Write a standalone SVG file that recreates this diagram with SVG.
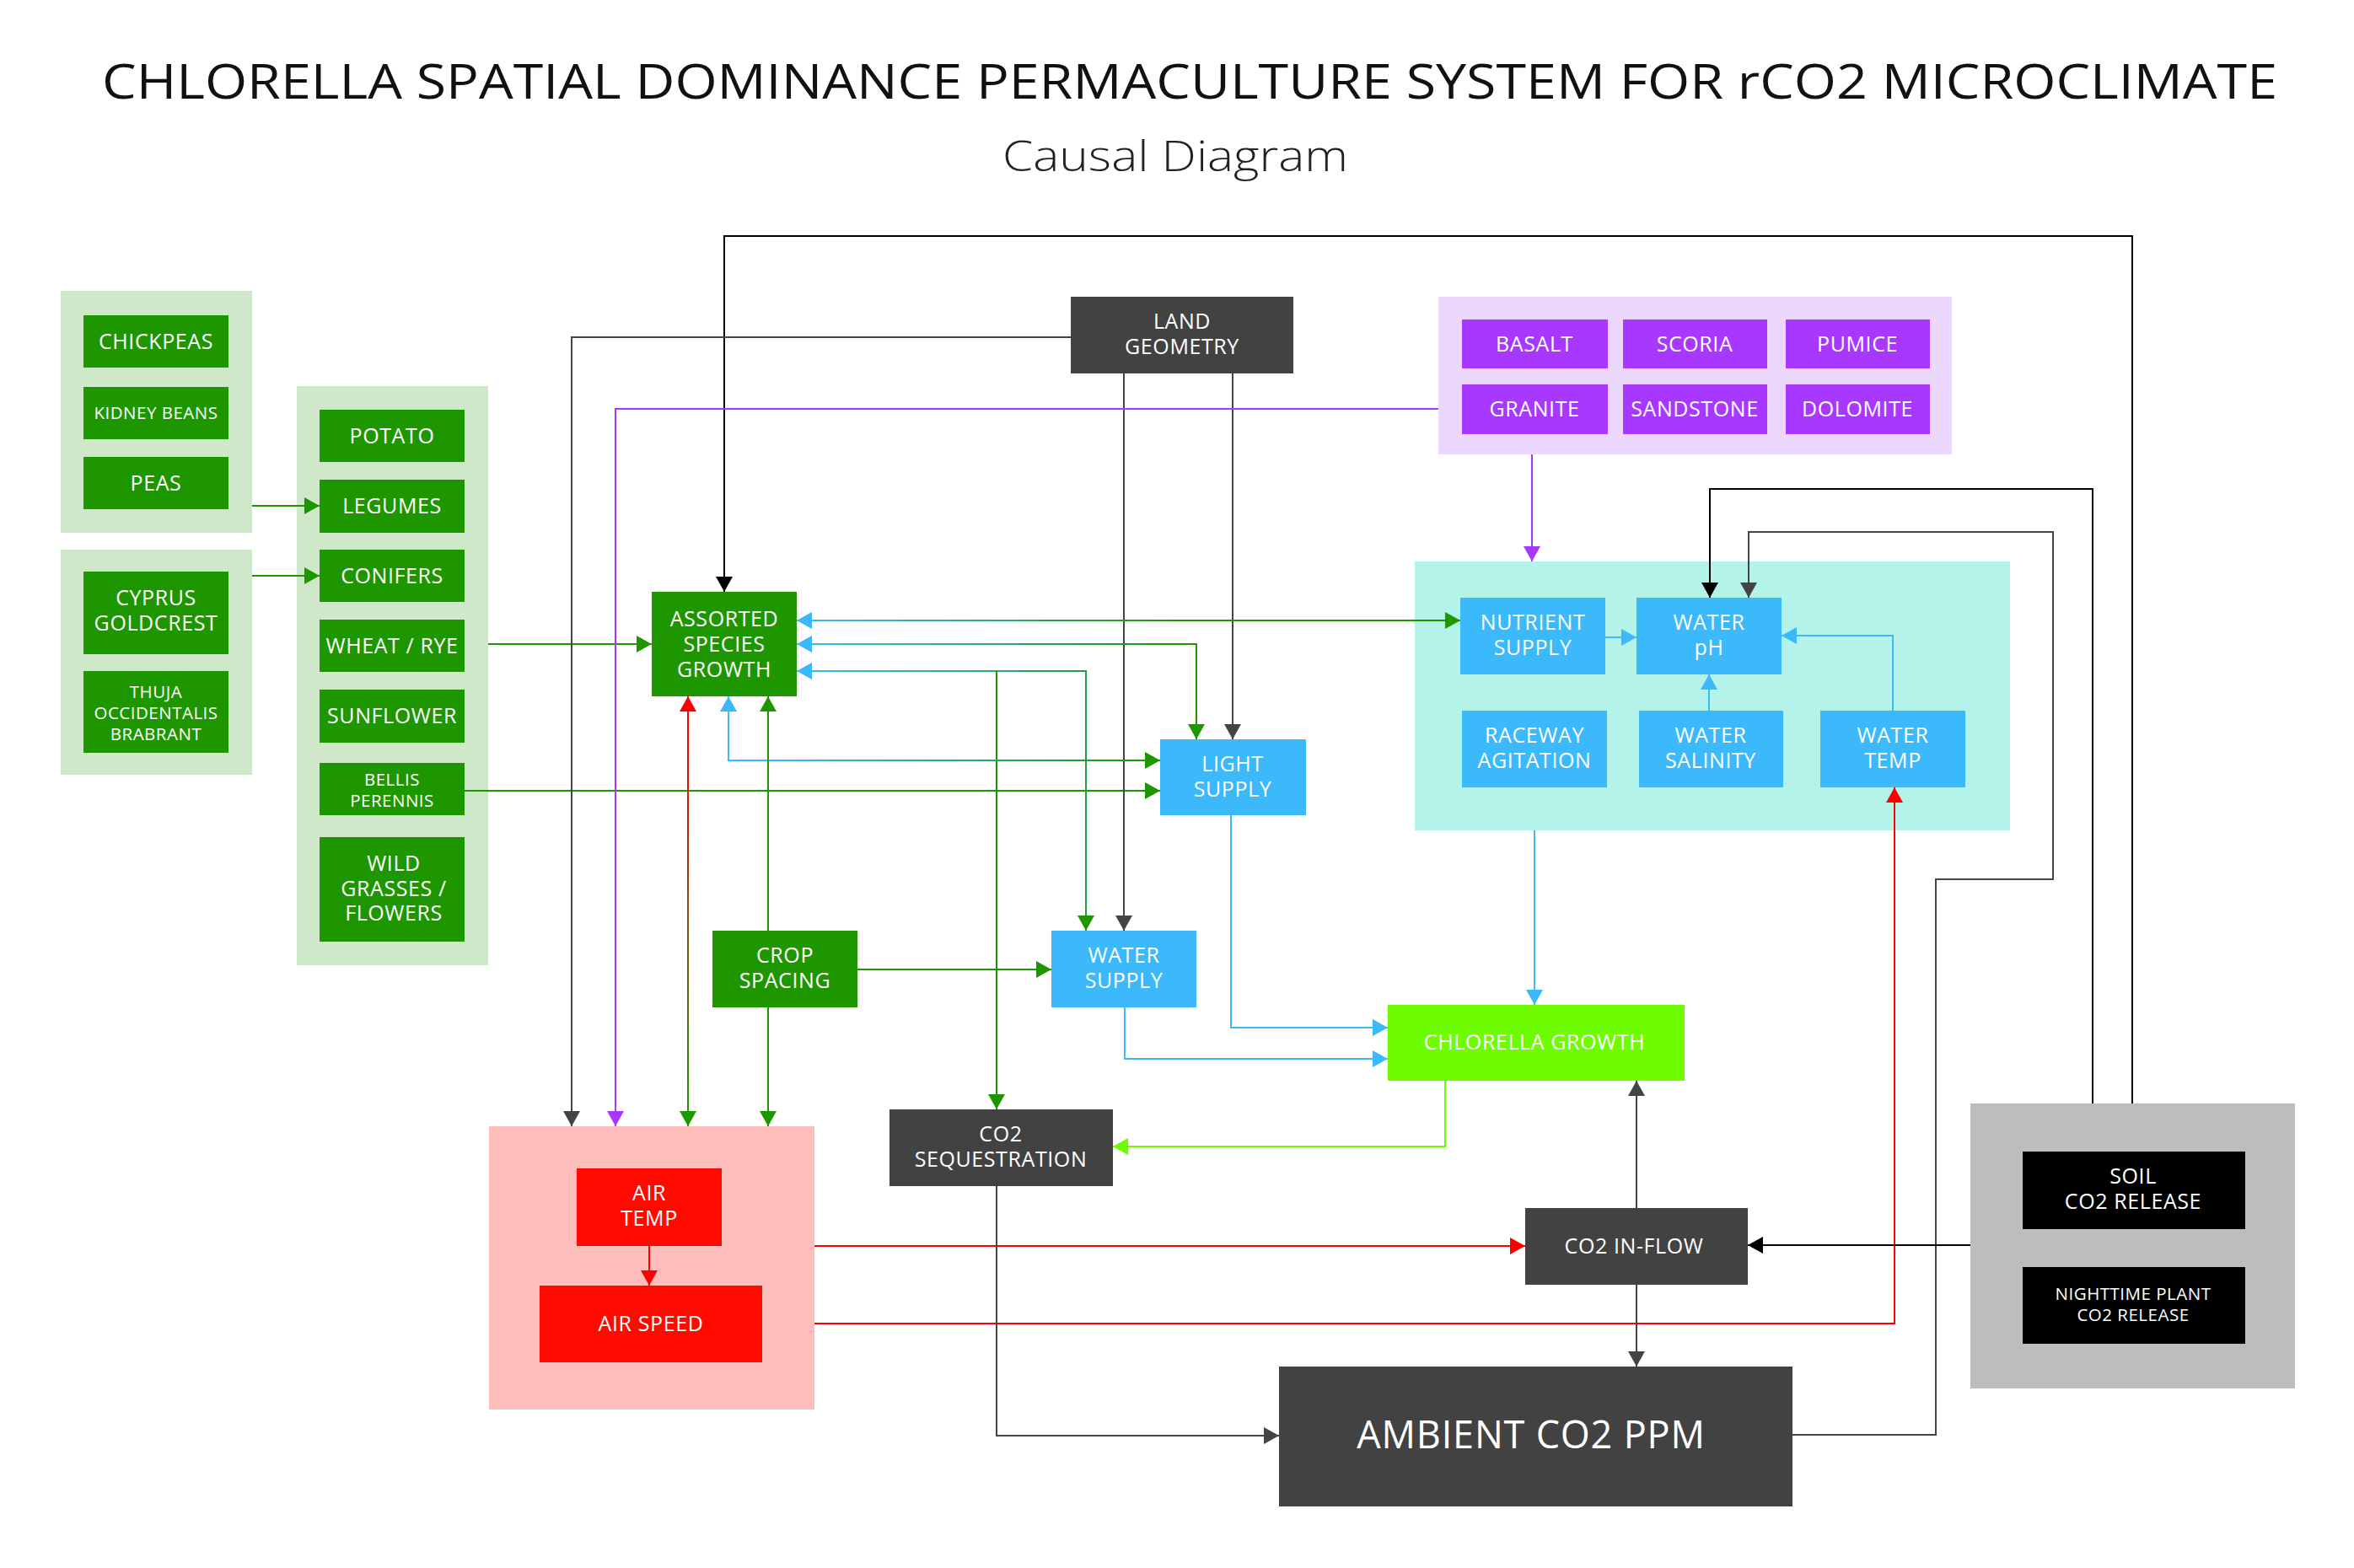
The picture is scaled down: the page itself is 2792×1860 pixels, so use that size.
<svg xmlns="http://www.w3.org/2000/svg" width="2792" height="1860" viewBox="0 0 2792 1860">
<style>
text{font-family:"Open Sans","Liberation Sans",sans-serif;fill:#fff;font-weight:500;text-anchor:middle}
.t{font-size:25px;letter-spacing:0.6px}
.s{font-size:20.5px;letter-spacing:0.5px}
.title{fill:#111;font-size:56px;font-weight:500}
.sub{fill:#222;font-size:50px;font-weight:300}
.grn{fill:#1e9600}.pur{fill:#a838ff}.blu{fill:#3bb9fb}.dk{fill:#424242}.red{fill:#ff0a00}.lime{fill:#6dfd00}.blk{fill:#000}
.ln{fill:none;stroke-width:2}
.lg{stroke:#1e9600}.lb{stroke:#3bb9fb}.lp{stroke:#a838ff}.lr{stroke:#ff0000}.lk{stroke:#000}.ld{stroke:#444}.ll{stroke:#6dfd00}
</style>
<defs>
<marker id="aG" markerUnits="userSpaceOnUse" markerWidth="18" markerHeight="20" refX="18" refY="10" orient="auto-start-reverse"><path d="M0,0L18,10L0,20z" fill="#1e9600"/></marker>
<marker id="aB" markerUnits="userSpaceOnUse" markerWidth="18" markerHeight="20" refX="18" refY="10" orient="auto-start-reverse"><path d="M0,0L18,10L0,20z" fill="#3bb9fb"/></marker>
<marker id="aP" markerUnits="userSpaceOnUse" markerWidth="18" markerHeight="20" refX="18" refY="10" orient="auto-start-reverse"><path d="M0,0L18,10L0,20z" fill="#a838ff"/></marker>
<marker id="aR" markerUnits="userSpaceOnUse" markerWidth="18" markerHeight="20" refX="18" refY="10" orient="auto-start-reverse"><path d="M0,0L18,10L0,20z" fill="#ff0000"/></marker>
<marker id="aK" markerUnits="userSpaceOnUse" markerWidth="18" markerHeight="20" refX="18" refY="10" orient="auto-start-reverse"><path d="M0,0L18,10L0,20z" fill="#000"/></marker>
<marker id="aD" markerUnits="userSpaceOnUse" markerWidth="18" markerHeight="20" refX="18" refY="10" orient="auto-start-reverse"><path d="M0,0L18,10L0,20z" fill="#444"/></marker>
<marker id="aL" markerUnits="userSpaceOnUse" markerWidth="18" markerHeight="20" refX="18" refY="10" orient="auto-start-reverse"><path d="M0,0L18,10L0,20z" fill="#6dfd00"/></marker>
<linearGradient id="gBG1" gradientUnits="userSpaceOnUse" x1="945" y1="0" x2="1400" y2="0"><stop offset="0" stop-color="#3bb9fb"/><stop offset="1" stop-color="#1e9600"/></linearGradient>
<linearGradient id="gBG2" gradientUnits="userSpaceOnUse" x1="900" y1="0" x2="1376" y2="0"><stop offset="0" stop-color="#3bb9fb"/><stop offset="1" stop-color="#1e9600"/></linearGradient>
<linearGradient id="gRG" gradientUnits="userSpaceOnUse" x1="0" y1="840" x2="0" y2="1320"><stop offset="0" stop-color="#ff0000"/><stop offset="1" stop-color="#1e9600"/></linearGradient>
</defs>
<rect width="2792" height="1860" fill="#fff"/>
<text class="title" x="1411" y="117" textLength="2580" lengthAdjust="spacingAndGlyphs">CHLORELLA SPATIAL DOMINANCE PERMACULTURE SYSTEM FOR rCO2 MICROCLIMATE</text>
<text class="sub" x="1394" y="203" textLength="410" lengthAdjust="spacingAndGlyphs">Causal Diagram</text>

<g id="group-legumes"><rect x="72" y="345" width="227" height="287" fill="#cfe8ca"/></g>
<g id="group-conifers"><rect x="72" y="652" width="227" height="267" fill="#cfe8ca"/></g>
<g id="group-plants"><rect x="352" y="458" width="227" height="687" fill="#cfe8ca"/></g>
<g id="group-rocks"><rect x="1706" y="352" width="609" height="187" fill="#ecd8fd"/></g>
<g id="group-water"><rect x="1678" y="666" width="706" height="319" fill="#b3f3ea"/></g>
<g id="group-air"><rect x="580" y="1336" width="386" height="336" fill="#fdbebb"/></g>
<g id="group-release"><rect x="2337" y="1309" width="385" height="338" fill="#bdbdbd"/></g>

<g id="connectors">
<path class="ln lg" d="M299,600H379" marker-end="url(#aG)"/>
<path class="ln lg" d="M299,683H379" marker-end="url(#aG)"/>
<path class="ln lg" d="M579,764H773" marker-end="url(#aG)"/>
<path class="ln lg" d="M551,938H1376" marker-end="url(#aG)"/>
<path class="ln lk" d="M2529,1309V280H859V702" marker-end="url(#aK)"/>
<path class="ln lk" d="M2482,1309V580H2028V709" marker-end="url(#aK)"/>
<path class="ln ld" d="M2126,1702H2296V1043H2435V631H2074V709" marker-end="url(#aD)"/>
<path class="ln ld" d="M1270,400H678V1336" marker-end="url(#aD)"/>
<path class="ln ld" d="M1333,443V1104" marker-end="url(#aD)"/>
<path class="ln ld" d="M1462,443V877" marker-end="url(#aD)"/>
<path class="ln lp" d="M1706,485H730V1336" marker-end="url(#aP)"/>
<path class="ln lp" d="M1817,539V666" marker-end="url(#aP)"/>
<path class="ln" stroke="url(#gBG1)" d="M945,736H1732" marker-start="url(#aB)" marker-end="url(#aG)"/>
<path class="ln" stroke="url(#gBG1)" d="M945,764H1419V877" marker-start="url(#aB)" marker-end="url(#aG)"/>
<path class="ln" stroke="url(#gBG1)" d="M945,796H1288V1104" marker-start="url(#aB)" marker-end="url(#aG)"/>
<path class="ln lg" d="M1182,796V1316" marker-end="url(#aG)"/>
<path class="ln" stroke="url(#gBG2)" d="M864,826V902H1376" marker-start="url(#aB)" marker-end="url(#aG)"/>
<path class="ln lg" d="M911,1104V826" marker-end="url(#aG)"/>
<path class="ln lg" d="M911,1195V1336" marker-end="url(#aG)"/>
<path class="ln lg" d="M1017,1150H1247" marker-end="url(#aG)"/>
<path class="ln" stroke="url(#gRG)" d="M816,826V1336" marker-start="url(#aR)" marker-end="url(#aG)"/>
<path class="ln lr" d="M770,1478V1525" marker-end="url(#aR)"/>
<path class="ln lr" d="M966,1478H1809" marker-end="url(#aR)"/>
<path class="ln lr" d="M966,1570H2247V934" marker-end="url(#aR)"/>
<path class="ln lb" d="M1460,967V1219H1646" marker-end="url(#aB)"/>
<path class="ln lb" d="M1334,1195V1256H1646" marker-end="url(#aB)"/>
<path class="ln lb" d="M1820,985V1192" marker-end="url(#aB)"/>
<path class="ln ll" d="M1714,1282V1360H1320" marker-end="url(#aL)"/>
<path class="ln ld" d="M1941,1433V1282" marker-end="url(#aD)"/>
<path class="ln ld" d="M1941,1524V1621" marker-end="url(#aD)"/>
<path class="ln lk" d="M2337,1477H2073" marker-end="url(#aK)"/>
<path class="ln ld" d="M1182,1407V1703H1517" marker-end="url(#aD)"/>
<path class="ln lb" d="M1904,756H1941" marker-end="url(#aB)"/>
<path class="ln lb" d="M2027,843V800" marker-end="url(#aB)"/>
<path class="ln lb" d="M2245,843V754H2113" marker-end="url(#aB)"/>
</g>

<g id="chickpeas"><rect class="grn" x="99" y="374" width="172" height="62"/><text class="t" x="185" y="414">CHICKPEAS</text></g>
<g id="kidney-beans"><rect class="grn" x="99" y="459" width="172" height="62"/><text class="s" x="185" y="497">KIDNEY BEANS</text></g>
<g id="peas"><rect class="grn" x="99" y="542" width="172" height="62"/><text class="t" x="185" y="582">PEAS</text></g>
<g id="cyprus"><rect class="grn" x="99" y="678" width="172" height="98"/><text class="t" x="185" y="718">CYPRUS</text><text class="t" x="185" y="748">GOLDCREST</text></g>
<g id="thuja"><rect class="grn" x="99" y="796" width="172" height="97"/><text class="s" x="185" y="828">THUJA</text><text class="s" x="185" y="853">OCCIDENTALIS</text><text class="s" x="185" y="878">BRABRANT</text></g>
<g id="potato"><rect class="grn" x="379" y="486" width="172" height="62"/><text class="t" x="465" y="526">POTATO</text></g>
<g id="legumes"><rect class="grn" x="379" y="569" width="172" height="63"/><text class="t" x="465" y="609">LEGUMES</text></g>
<g id="conifers"><rect class="grn" x="379" y="652" width="172" height="62"/><text class="t" x="465" y="692">CONIFERS</text></g>
<g id="wheat-rye"><rect class="grn" x="379" y="735" width="172" height="62"/><text class="t" x="465" y="775">WHEAT / RYE</text></g>
<g id="sunflower"><rect class="grn" x="379" y="818" width="172" height="63"/><text class="t" x="465" y="858">SUNFLOWER</text></g>
<g id="bellis"><rect class="grn" x="379" y="905" width="172" height="62"/><text class="s" x="465" y="932">BELLIS</text><text class="s" x="465" y="957">PERENNIS</text></g>
<g id="wild-grasses"><rect class="grn" x="379" y="993" width="172" height="124"/><text class="t" x="467" y="1033">WILD</text><text class="t" x="467" y="1063">GRASSES /</text><text class="t" x="467" y="1092">FLOWERS</text></g>

<g id="assorted"><rect class="grn" x="773" y="702" width="172" height="124"/><text class="t" x="859" y="743">ASSORTED</text><text class="t" x="859" y="773">SPECIES</text><text class="t" x="859" y="803">GROWTH</text></g>
<g id="land-geometry"><rect class="dk" x="1270" y="352" width="264" height="91"/><text class="t" x="1402" y="390">LAND</text><text class="t" x="1402" y="420">GEOMETRY</text></g>

<g id="basalt"><rect class="pur" x="1734" y="379" width="173" height="58"/><text class="t" x="1820" y="417">BASALT</text></g>
<g id="scoria"><rect class="pur" x="1925" y="379" width="171" height="58"/><text class="t" x="2010" y="417">SCORIA</text></g>
<g id="pumice"><rect class="pur" x="2118" y="379" width="171" height="58"/><text class="t" x="2203" y="417">PUMICE</text></g>
<g id="granite"><rect class="pur" x="1734" y="456" width="173" height="59"/><text class="t" x="1820" y="494">GRANITE</text></g>
<g id="sandstone"><rect class="pur" x="1925" y="456" width="171" height="59"/><text class="t" x="2010" y="494">SANDSTONE</text></g>
<g id="dolomite"><rect class="pur" x="2118" y="456" width="171" height="59"/><text class="t" x="2203" y="494">DOLOMITE</text></g>

<g id="nutrient-supply"><rect class="blu" x="1732" y="709" width="172" height="91"/><text class="t" x="1818" y="747">NUTRIENT</text><text class="t" x="1818" y="777">SUPPLY</text></g>
<g id="water-ph"><rect class="blu" x="1941" y="709" width="172" height="91"/><text class="t" x="2027" y="747">WATER</text><text class="t" x="2027" y="777">pH</text></g>
<g id="raceway"><rect class="blu" x="1734" y="843" width="172" height="91"/><text class="t" x="1820" y="881">RACEWAY</text><text class="t" x="1820" y="911">AGITATION</text></g>
<g id="water-salinity"><rect class="blu" x="1944" y="843" width="171" height="91"/><text class="t" x="2029" y="881">WATER</text><text class="t" x="2029" y="911">SALINITY</text></g>
<g id="water-temp"><rect class="blu" x="2159" y="843" width="172" height="91"/><text class="t" x="2245" y="881">WATER</text><text class="t" x="2245" y="911">TEMP</text></g>

<g id="light-supply"><rect class="blu" x="1376" y="877" width="173" height="90"/><text class="t" x="1462" y="915">LIGHT</text><text class="t" x="1462" y="945">SUPPLY</text></g>
<g id="crop-spacing"><rect class="grn" x="845" y="1104" width="172" height="91"/><text class="t" x="931" y="1142">CROP</text><text class="t" x="931" y="1172">SPACING</text></g>
<g id="water-supply"><rect class="blu" x="1247" y="1104" width="172" height="91"/><text class="t" x="1333" y="1142">WATER</text><text class="t" x="1333" y="1172">SUPPLY</text></g>
<g id="co2-sequestration"><rect class="dk" x="1055" y="1316" width="265" height="91"/><text class="t" x="1187" y="1354">CO2</text><text class="t" x="1187" y="1384">SEQUESTRATION</text></g>
<g id="chlorella-growth"><rect class="lime" x="1646" y="1192" width="352" height="90"/><text class="t" x="1820" y="1245">CHLORELLA GROWTH</text></g>

<g id="air-temp"><rect class="red" x="684" y="1386" width="172" height="92"/><text class="t" x="770" y="1424">AIR</text><text class="t" x="770" y="1454">TEMP</text></g>
<g id="air-speed"><rect class="red" x="640" y="1525" width="264" height="91"/><text class="t" x="772" y="1579">AIR SPEED</text></g>
<g id="co2-inflow"><rect class="dk" x="1809" y="1433" width="264" height="91"/><text class="t" x="1938" y="1487">CO2 IN-FLOW</text></g>
<g id="ambient-co2"><rect class="dk" x="1517" y="1621" width="609" height="166"/><text x="1816" y="1718" style="font-size:45px;letter-spacing:0.8px">AMBIENT CO2 PPM</text></g>

<g id="soil-co2"><rect class="blk" x="2399" y="1366" width="264" height="92"/><text class="t" x="2530" y="1404">SOIL</text><text class="t" x="2530" y="1434">CO2 RELEASE</text></g>
<g id="nighttime-co2"><rect class="blk" x="2399" y="1503" width="264" height="91"/><text class="s" x="2530" y="1542">NIGHTTIME PLANT</text><text class="s" x="2530" y="1567">CO2 RELEASE</text></g>
</svg>
